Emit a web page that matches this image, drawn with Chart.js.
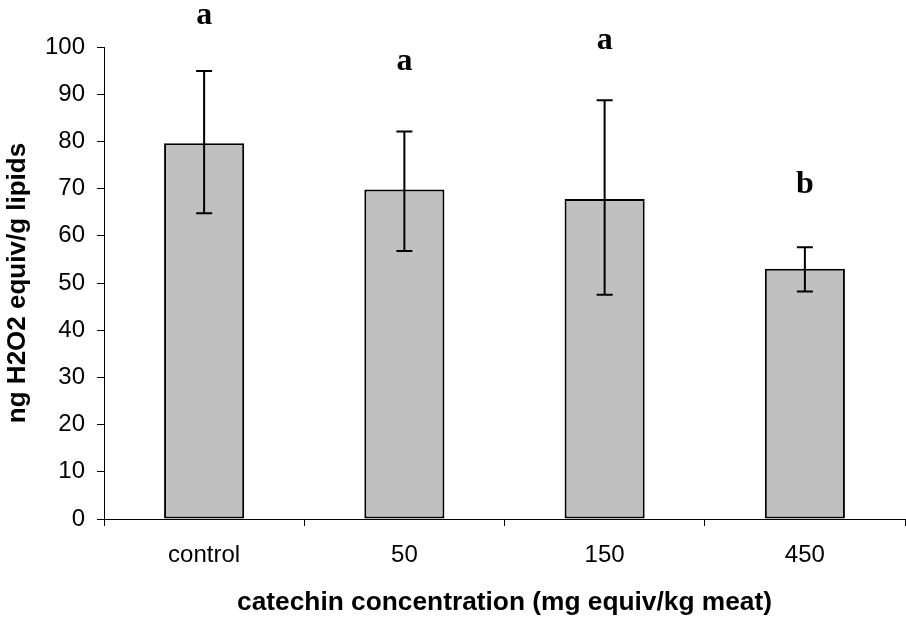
<!DOCTYPE html>
<html><head><meta charset="utf-8">
<script src="https://cdn.jsdelivr.net/npm/chart.js@4/dist/chart.umd.min.js"></script>
<style>html,body{margin:0;padding:0;background:#fff}#wrap{width:906px;height:619px}</style>
</head><body><div id="wrap"><canvas id="c"></canvas></div>
<script>
const categories = ["control", "50", "150", "450"];
const means = [79.6, 69.8, 67.8, 53.0];
const errUpper = [94.9, 82.1, 88.7, 57.6];
const errLower = [64.8, 56.8, 47.5, 48.2];
const sigLetters = ["a", "a", "a", "b"];
const sigLetterY = [104.8, 95.2, 99.6, 69.1];
const yTicks = [0,10,20,30,40,50,60,70,80,90,100];

const errorBars = {
  id: 'errorBars',
  afterDatasetsDraw(chart) {
    const ctx = chart.ctx, meta = chart.getDatasetMeta(0), y = chart.scales.y;
    ctx.save();
    ctx.strokeStyle = '#000'; ctx.lineWidth = 2;
    meta.data.forEach((bar, i) => {
      const x = bar.x, yt = y.getPixelForValue(errUpper[i]), yb = y.getPixelForValue(errLower[i]);
      ctx.beginPath();
      ctx.moveTo(x, yt); ctx.lineTo(x, yb);
      ctx.moveTo(x - 8, yt); ctx.lineTo(x + 8, yt);
      ctx.moveTo(x - 8, yb); ctx.lineTo(x + 8, yb);
      ctx.stroke();
    });
    ctx.restore();
  },
  afterDraw(chart) {
    const ctx = chart.ctx, meta = chart.getDatasetMeta(0), y = chart.scales.y;
    ctx.save();
    ctx.fillStyle = '#000';
    ctx.font = 'bold 32px "Liberation Serif", "Times New Roman", serif';
    ctx.textAlign = 'center'; ctx.textBaseline = 'alphabetic';
    meta.data.forEach((bar, i) => {
      ctx.fillText(sigLetters[i], bar.x, y.getPixelForValue(sigLetterY[i]));
    });
    ctx.restore();
  }
};

new Chart(document.getElementById('c'), {
  type: 'bar',
  data: {
    labels: categories,
    datasets: [{
      data: means,
      backgroundColor: '#C0C0C0',
      borderColor: '#000',
      borderWidth: 2,
      borderSkipped: false,
      categoryPercentage: 0.4,
      barPercentage: 1.0
    }]
  },
  options: {
    responsive: true,
    maintainAspectRatio: false,
    animation: false,
    events: [],
    layout: { padding: { top: 47, right: 1, left: 0, bottom: 0 } },
    plugins: { legend: { display: false }, tooltip: { enabled: false } },
    scales: {
      x: {
        afterFit(s) { s.height = 100; },
        grid: { display: true, drawOnChartArea: false, drawTicks: true, tickLength: 7, color: '#000', offset: true },
        border: { color: '#000', width: 1 },
        ticks: { color: '#000', font: { family: '"Liberation Sans", Arial, sans-serif', size: 24 }, padding: 15 },
        title: { display: true, text: 'catechin concentration (mg equiv/kg meat)', color: '#000',
                 font: { family: '"Liberation Sans", Arial, sans-serif', size: 26.3, weight: 'bold' }, padding: { top: 17, bottom: 0 } }
      },
      y: {
        min: 0, max: 100,
        afterFit(s) { s.width = 104; },
        afterBuildTicks(axis) { axis.ticks = yTicks.map(v => ({ value: v })); },
        grid: { display: true, drawOnChartArea: false, drawTicks: true, tickLength: 7, color: '#000' },
        border: { color: '#000', width: 1 },
        ticks: { color: '#000', font: { family: '"Liberation Sans", Arial, sans-serif', size: 24 }, padding: 12 },
        title: { display: true, text: 'ng H2O2 equiv/g lipids', color: '#000',
                 font: { family: '"Liberation Sans", Arial, sans-serif', size: 26, weight: 'bold' }, padding: { top: 2, bottom: 12 } }
      }
    }
  },
  plugins: [errorBars]
});
</script></body></html>
